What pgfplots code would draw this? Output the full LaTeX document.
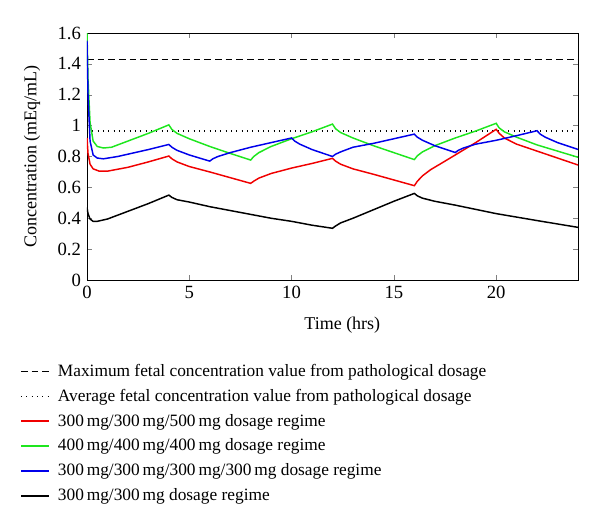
\documentclass[border=0pt]{standalone}
\usepackage{pgfplots}
\pgfplotsset{compat=1.18}
\usepackage{fontspec}
\setmainfont{Liberation Serif}
\definecolor{mygreen}{RGB}{30,230,30}
\definecolor{myred}{RGB}{240,0,0}
\definecolor{myblue}{RGB}{0,0,235}
\begin{document}
\fontsize{13}{15}\selectfont
\begin{tikzpicture}[x=1pt,y=1pt]
\path[use as bounding box] (-65.25,-183.75) rectangle (384.75,210);
\begin{axis}[
  at={(0,0)}, anchor=south west,
  scale only axis,
  width=368.25pt, height=185.25pt,
  xmin=0, xmax=24, ymin=0, ymax=1.6,
  xtick={0,5,10,15,20},
  ytick={0,0.2,0.4,0.6,0.8,1,1.2,1.4,1.6},
  tick align=inside,
  major tick length=4pt,
  /pgf/number format/assume math mode=true,
  ticklabel style={font=\fontsize{14}{16}\selectfont},
  label style={font=\fontsize{13.5}{15}\selectfont},
  xlabel={Time (hrs)},
  ylabel={Concentration (mEq/mL)},
  xlabel style={at={(axis description cs:0.52,-0.182)}, anchor=center},
  ylabel style={at={(axis description cs:-0.112,0.5)}, anchor=center},
  legend style={at={(axis description cs:-0.145,-0.318)}, anchor=north west, draw=none, fill=none,
    font=\fontsize{13}{15}\selectfont, row sep=3.6pt, column sep=4pt},
  legend cell align=left,
  legend image code/.code={\draw[#1, line width=1.4pt] (0pt,0pt) -- (21pt,0pt);},
  every axis plot/.append style={line width=1.1pt},
]
\addplot[black, dash pattern=on 5pt off 3pt] coordinates {(0,1.43) (24,1.43)};
\addlegendentry{Maximum fetal concentration value from pathological dosage}
\addplot[black, line width=0.8pt, dash pattern=on 0.7pt off 3.3pt] coordinates {(0,0.965) (24,0.965)};
\addlegendentry{Average fetal concentration value from pathological dosage}
\addplot[myred] coordinates {
(0,0.92) (0.05,0.82) (0.15,0.75) (0.3,0.72) (0.6,0.705) (1,0.705) (2,0.73) (3,0.765) (4,0.803)
(4.15,0.785) (4.4,0.765) (5,0.735) (6,0.70) (7,0.663) (8,0.626)
(8.15,0.64) (8.4,0.66) (9,0.69) (10,0.725) (11,0.755) (12,0.788)
(12.15,0.77) (12.4,0.75) (13,0.72) (14,0.685) (15,0.648) (16,0.611)
(16.15,0.64) (16.4,0.675) (16.8,0.715) (17.5,0.77) (18,0.81) (19,0.89) (20,0.976)
(20.15,0.95) (20.4,0.92) (21,0.88) (22,0.835) (23,0.79) (24,0.745)};
\addlegendentry{300\,mg/300\,mg/500\,mg dosage regime}
\addplot[mygreen] coordinates {
(0,1.60) (0.05,1.3) (0.15,1.02) (0.3,0.90) (0.5,0.865) (0.8,0.855) (1.2,0.86) (2,0.90) (3,0.95) (4,1.005)
(4.15,0.975) (4.4,0.95) (5,0.915) (6,0.865) (7,0.82) (8,0.777)
(8.15,0.80) (8.4,0.825) (9,0.865) (10,0.915) (11,0.96) (12,1.01)
(12.15,0.98) (12.4,0.955) (13,0.92) (14,0.87) (15,0.825) (16,0.78)
(16.15,0.805) (16.4,0.83) (17,0.87) (18,0.92) (19,0.965) (20,1.015)
(20.15,0.985) (20.4,0.96) (21,0.925) (22,0.875) (23,0.835) (24,0.795)};
\addlegendentry{400\,mg/400\,mg/400\,mg dosage regime}
\addplot[myblue] coordinates {
(0,1.55) (0.05,1.2) (0.15,0.9) (0.3,0.81) (0.5,0.79) (0.8,0.785) (1.5,0.8) (2,0.815) (3,0.845) (4,0.878)
(4.15,0.86) (4.4,0.84) (5,0.81) (6,0.77)
(6.15,0.785) (6.4,0.80) (7,0.825) (8,0.86) (9,0.89) (10,0.92)
(10.15,0.9) (10.4,0.88) (11,0.845) (12,0.80)
(12.15,0.815) (12.4,0.83) (13,0.86) (14,0.885) (15,0.915) (16,0.945)
(16.15,0.925) (16.4,0.905) (17,0.87) (18,0.826)
(18.15,0.84) (18.4,0.855) (19,0.88) (20,0.905) (21,0.935) (22,0.967)
(22.15,0.945) (22.4,0.925) (23,0.89) (24,0.846)};
\addlegendentry{300\,mg/300\,mg/300\,mg/300\,mg dosage regime}
\addplot[black] coordinates {
(0,0.47) (0.05,0.43) (0.15,0.395) (0.3,0.38) (0.5,0.38) (1,0.395) (2,0.445) (3,0.495) (4,0.55)
(4.15,0.535) (4.4,0.52) (5,0.505) (6,0.475) (7,0.45) (8,0.425) (9,0.40) (10,0.38) (11,0.355) (12,0.335)
(12.15,0.35) (12.4,0.37) (13,0.40) (14,0.455) (15,0.51) (16,0.561)
(16.15,0.545) (16.4,0.53) (17,0.51) (18,0.485) (20,0.43) (22,0.385) (24,0.341)};
\addlegendentry{300\,mg/300\,mg dosage regime}
\end{axis}
\end{tikzpicture}
\end{document}
